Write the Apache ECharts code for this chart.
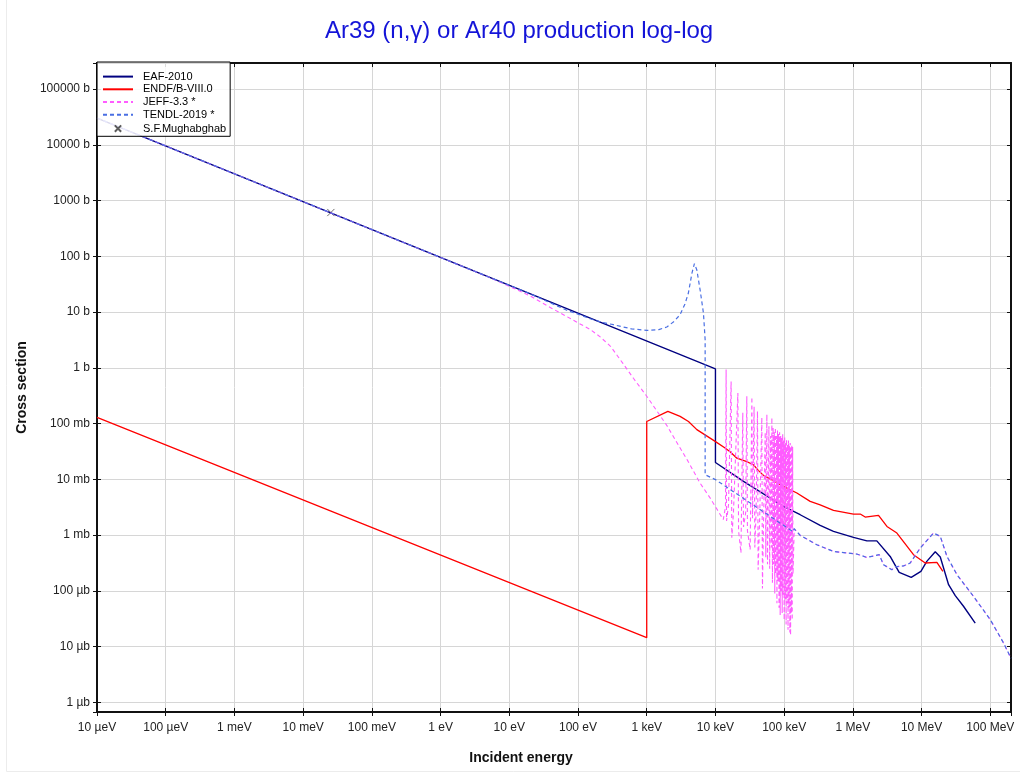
<!DOCTYPE html>
<html>
<head>
<meta charset="utf-8">
<title>Ar39 (n,γ) or Ar40 production log-log</title>
<script src="https://cdn.jsdelivr.net/npm/echarts@6/dist/echarts.min.js"></script>
<style>
  html, body { margin: 0; padding: 0; background: #fff; }
  #chart { width: 1020px; height: 773px; }
</style>
</head>
<body>
<div id="chart"></div>
<script>
// energies in eV, cross sections in barns
const xTickLabels = ['10 µeV', '100 µeV', '1 meV', '10 meV', '100 meV', '1 eV', '10 eV', '100 eV',
  '1 keV', '10 keV', '100 keV', '1 MeV', '10 MeV', '100 MeV']; // 1e-5 .. 1e8
const yTickLabels = ['1 µb', '10 µb', '100 µb', '1 mb', '10 mb', '100 mb', '1 b', '10 b', '100 b',
  '1000 b', '10000 b', '100000 b']; // 1e-6 .. 1e5

const eaf2010 = [
  [1e-5, 30200], [10000, 0.955], [10000, 0.0201], [25600, 0.0092], [97700, 0.00327],
  [171000, 0.00232], [334000, 0.00149], [522000, 0.00117], [1.02e6, 0.00091], [1.6e6, 0.00079],
  [2.23e6, 0.00079], [3.49e6, 0.000415], [4.72e6, 0.000214], [7.06e6, 0.000175], [9.77e6, 0.000224],
  [11.9e6, 0.000338], [15.8e6, 0.000505], [18.7e6, 0.000405], [24.7e6, 0.000129], [30.9e6, 8.2e-5],
  [40.7e6, 5.3e-5], [60.3e6, 2.65e-5]
];

const endf8 = [
  [1e-5, 0.129], [1000, 1.45e-5], [1000, 0.109], [2030, 0.166], [3060, 0.135], [4050, 0.109],
  [5360, 0.078], [9900, 0.048], [13800, 0.0365], [16500, 0.031], [20500, 0.024], [28000, 0.021],
  [35700, 0.0183], [42000, 0.0145], [50000, 0.0118], [70000, 0.0095], [97700, 0.0075],
  [153000, 0.0057], [239000, 0.00403], [334000, 0.0035], [522000, 0.00277], [1.02e6, 0.00239],
  [1.28e6, 0.00239], [1.51e6, 0.00211], [2.36e6, 0.00226], [3.13e6, 0.00143], [4.37e6, 0.00109],
  [7.62e6, 0.000446], [11.3e6, 0.000316], [16.7e6, 0.000324], [20.4e6, 0.000224]
];

const jeffLow = [
  [1e-5, 30200], [5, 42.5], [10, 29], [20, 19.5], [40, 12], [70, 8.2], [100, 6.4], [150, 4.9],
  [210, 3.6], [300, 2.4], [450, 1.2], [640, 0.65], [1000, 0.31], [1500, 0.15], [2000, 0.089],
  [3000, 0.038], [4000, 0.021], [6000, 0.0085], [8400, 0.0046], [13000, 0.0019]
];

const jeffResonances = [
  [14000, 0.0032], [14300, 0.93], [14500, 0.0018], [15500, 0.0035], [16900, 0.57], [17300, 0.0009],
  [18300, 0.0026], [21200, 0.355], [21700, 0.0012], [23500, 0.00048], [25000, 0.157], [25600, 0.0014],
  [27500, 0.0025], [28600, 0.31], [29200, 0.0012], [32000, 0.00055], [33900, 0.30], [34600, 0.002],
  [36500, 0.2], [37400, 0.0006], [39000, 0.0025], [40900, 0.166], [41800, 0.00024], [44000, 0.002],
  [47300, 0.128], [48300, 0.00011], [50000, 0.0015], [53000, 0.07], [54000, 0.0004], [56000, 0.145],
  [57200, 0.0003], [60000, 0.09], [61500, 0.00025], [63500, 0.06], [64800, 0.0006], [66200, 0.128],
  [67500, 0.00014], [69000, 0.085], [70300, 0.0003], [71800, 0.07], [73000, 0.00009], [74500, 0.085],
  [75800, 0.0002], [77300, 0.06], [78500, 0.00006], [80000, 0.075], [81300, 0.00015], [82800, 0.065],
  [84200, 0.00005], [85800, 0.07], [87500, 0.000037], [89000, 0.06], [90500, 0.0001], [92000, 0.055],
  [93600, 0.00004], [95200, 0.065], [96800, 0.00008], [98400, 0.05], [100000, 0.00003], [101700, 0.058],
  [103400, 0.00007], [105000, 0.045], [106700, 0.000025], [108400, 0.052], [110200, 0.00006],
  [112000, 0.042], [113800, 0.00002], [115600, 0.05], [117400, 0.00005], [119200, 0.04],
  [121000, 0.000018], [122500, 0.045], [124000, 0.000016], [125800, 0.04], [127500, 0.00004],
  [129200, 0.042], [131000, 0.00003], [132800, 0.038], [134500, 0.0002]
];

// above ~140 keV JEFF-3.3 and TENDL-2019 lie on top of each other
const highTail = [
  [140000, 0.0013], [171000, 0.00099], [299000, 0.000673], [522000, 0.00051], [1.14e6, 0.000458],
  [1.6e6, 0.000398], [2.42e6, 0.000446], [2.79e6, 0.000295], [3.7e6, 0.00024], [4.13e6, 0.00027],
  [5.46e6, 0.00028], [6.83e6, 0.000316], [9.55e6, 0.000588], [14.9e6, 0.00109], [18.7e6, 0.00095],
  [23.4e6, 0.000415], [32.7e6, 0.000195], [57e6, 7.96e-5], [1e8, 3.04e-5], [1.56e8, 1.16e-5],
  [2e8, 6.2e-6]
];

const tendlLow = [
  [1e-5, 30200], [20, 21.3], [68.7, 10.8], [100, 9.2], [150, 7.6], [220, 6.6], [327, 5.94], [600, 5.0],
  [1000, 4.69], [1500, 4.85], [1960, 5.4], [2500, 6.8], [3060, 9.0], [3600, 14], [4040, 22],
  [4550, 50], [4940, 74], [5360, 57], [5980, 25], [6690, 9.6], [7080, 3.2], [7080, 0.0121],
  [10000, 0.0099], [52800, 0.0025], [135000, 0.00115]
];

const mughabghab = [[0.0253, 610]];

const xMin = 1e-5, xMax = 2e8;
const yMin = 6.73e-7, yMax = 2.93e5;

const toLog = (arr) => arr.map(([e, s]) => [Math.log10(e), Math.log10(s)]);
const pickLabel = (labels, base) => (v) => {
  const i = Math.round(v);
  if (Math.abs(v - i) > 1e-6) return '';
  return labels[i - base] || '';
};

const font = 'Liberation Sans, Arial, Helvetica, sans-serif';

const chart = echarts.init(document.getElementById('chart'), null, { renderer: 'canvas' });

// extra axes only used for the frame and the inner tick marks
const frameAxis = (position, min, max, showLine) => ({
  type: 'value',
  gridIndex: 0,
  position: position,
  min: min,
  max: max,
  minInterval: 1,
  maxInterval: 1,
  axisLine: { show: showLine, onZero: false, lineStyle: { color: '#111', width: 2 } },
  axisTick: { show: true, inside: true, length: 4, lineStyle: { color: '#111' } },
  axisLabel: { show: false },
  splitLine: { show: false }
});

const noDot = { itemStyle: { opacity: 0 } };

chart.setOption({
  animation: false,
  backgroundColor: '#fff',
  textStyle: { fontFamily: font },
  title: {
    text: 'Ar39 (n,γ) or Ar40 production log-log',
    left: 325,
    top: 19,
    padding: 0,
    textStyle: { color: '#1414d8', fontSize: 24, fontWeight: 'normal', fontFamily: font }
  },
  graphic: [{
    type: 'rect',
    silent: true,
    shape: { x: 6.5, y: -2, width: 1040, height: 773.5 },
    style: { fill: null, stroke: '#ececec', lineWidth: 1 }
  }],
  legend: {
    orient: 'vertical',
    left: 97,
    top: 62,
    padding: [9, 4, 1, 5],
    itemGap: 1.5,
    itemWidth: 30,
    itemHeight: 11.5,
    backgroundColor: 'rgba(255,255,255,0.85)',
    borderColor: '#000',
    borderWidth: 1,
    textStyle: { fontSize: 11, color: '#000', fontFamily: font, padding: [0, 0, 0, 5] },
    data: [
      Object.assign({ name: 'EAF-2010' }, noDot),
      Object.assign({ name: 'ENDF/B-VIII.0' }, noDot),
      Object.assign({ name: 'JEFF-3.3 *' }, noDot),
      Object.assign({ name: 'TENDL-2019 *' }, noDot),
      { name: 'S.F.Mughabghab' }
    ]
  },
  grid: { left: 97, right: 9, top: 63, bottom: 61, containLabel: false },
  xAxis: [{
    type: 'value',
    min: Math.log10(xMin),
    max: Math.log10(xMax),
    minInterval: 1,
    maxInterval: 1,
    name: 'Incident energy',
    nameLocation: 'middle',
    nameGap: 39,
    nameTextStyle: { fontSize: 14, fontWeight: 'bold', color: '#111', fontFamily: font, padding: [0, 66, 0, 0] },
    axisLine: { show: true, onZero: false, lineStyle: { color: '#111', width: 2 } },
    axisTick: { show: true, length: 4, lineStyle: { color: '#111' } },
    axisLabel: { fontSize: 12, color: '#222', margin: 10, formatter: pickLabel(xTickLabels, -5) },
    splitLine: { show: true, lineStyle: { color: '#d6d6d6', width: 1 } }
  },
  frameAxis('top', Math.log10(xMin), Math.log10(xMax), true),
  frameAxis('bottom', Math.log10(xMin), Math.log10(xMax), false)],
  yAxis: [{
    type: 'value',
    min: Math.log10(yMin),
    max: Math.log10(yMax),
    minInterval: 1,
    maxInterval: 1,
    name: 'Cross section',
    nameLocation: 'middle',
    nameGap: 62,
    nameTextStyle: { fontSize: 14, fontWeight: 'bold', color: '#111', fontFamily: font },
    axisLine: { show: true, onZero: false, lineStyle: { color: '#111', width: 2 } },
    axisTick: { show: true, length: 4, lineStyle: { color: '#111' } },
    axisLabel: { fontSize: 12, color: '#222', margin: 7, formatter: pickLabel(yTickLabels, -6) },
    splitLine: { show: true, lineStyle: { color: '#d6d6d6', width: 1 } }
  },
  frameAxis('right', Math.log10(yMin), Math.log10(yMax), true),
  frameAxis('left', Math.log10(yMin), Math.log10(yMax), false)],
  series: [{
    name: 'EAF-2010',
    type: 'line',
    data: toLog(eaf2010),
    showSymbol: false,
    color: '#000080',
    lineStyle: { color: '#000080', width: 1.4 }
  }, {
    name: 'ENDF/B-VIII.0',
    type: 'line',
    data: toLog(endf8),
    showSymbol: false,
    color: '#ff0000',
    lineStyle: { color: '#ff0000', width: 1.3 }
  }, {
    name: 'JEFF-3.3 *',
    type: 'line',
    data: toLog(jeffLow.concat(jeffResonances, highTail)),
    showSymbol: false,
    color: '#ff5cff',
    lineStyle: { color: '#ff5cff', width: 1.1, type: [4, 3] }
  }, {
    name: 'TENDL-2019 *',
    type: 'line',
    data: toLog(tendlLow.concat(highTail)),
    showSymbol: false,
    color: '#4a6fe3',
    lineStyle: { color: '#4a6fe3', width: 1.2, type: [4, 3] }
  }, {
    name: 'S.F.Mughabghab',
    type: 'scatter',
    data: toLog(mughabghab),
    symbol: 'path://M0,0M20,20M4.5,4.5L15.5,15.5M15.5,4.5L4.5,15.5',
    symbolSize: 13,
    itemStyle: { color: 'transparent', borderColor: '#333', borderWidth: 0.9 }
  }]
});
</script>
</body>
</html>
